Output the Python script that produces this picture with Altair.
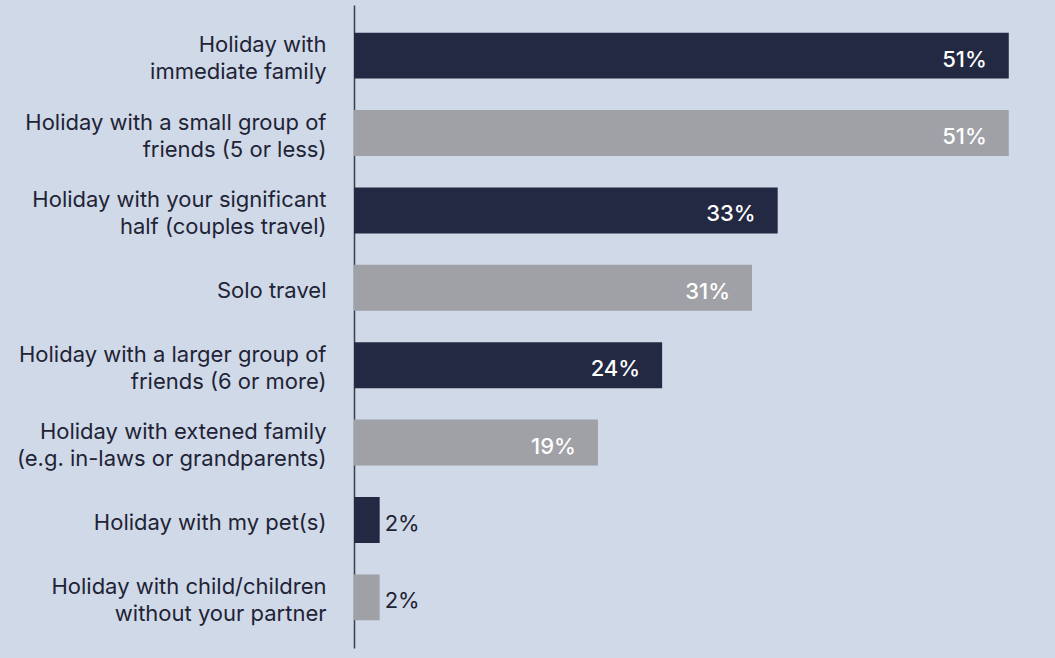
import altair as alt
import pandas as pd

categories = [
    "Holiday with|immediate family",
    "Holiday with a small group of|friends (5 or less)",
    "Holiday with your significant|half (couples travel)",
    "Solo travel",
    "Holiday with a larger group of|friends (6 or more)",
    "Holiday with extened family|(e.g. in-laws or grandparents)",
    "Holiday with my pet(s)",
    "Holiday with child/children|without your partner",
]
values = [51, 51, 33, 31, 24, 19, 2, 2]

df = pd.DataFrame({"cat": categories, "value": values})
df["tone"] = ["a" if i % 2 == 0 else "b" for i in range(len(df))]
df["label"] = [f"{v}%" for v in values]

BG = "#cfd9e7"
DARK = "#232943"
GRAY = "#a0a1a6"
TEXT = "#1f2336"
FONT = "Inter"

y = alt.Y(
    "cat:N",
    sort=categories,
    scale=alt.Scale(paddingInner=0.406, paddingOuter=0.357),
    axis=alt.Axis(
        title=None,
        ticks=False,
        domain=True,
        domainColor="#3a3d4a",
        domainWidth=1.5,
        labelExpr="split(datum.label, '|')",
        labelFont=FONT,
        labelFontSize=22,
        labelColor=TEXT,
        labelPadding=28,
        labelLineHeight=27,
        labelLimit=400,
        labelOffset={"condition": {"test": "indexof(datum.value, '|') >= 0", "value": -10.5}, "value": 3},
        grid=False,
    ),
)
x = alt.X(
    "value:Q",
    scale=alt.Scale(domain=[0, 54.6], nice=False),
    axis=None,
)

base = alt.Chart(df)
bars = base.mark_bar().encode(
    y=y,
    x=x,
    color=alt.Color("tone:N", scale=alt.Scale(domain=["a", "b"], range=[DARK, GRAY]), legend=None),
)
inside = base.transform_filter("datum.value >= 10").mark_text(
    align="right", baseline="middle", dx=-22, dy=4, font=FONT, fontSize=22, fontWeight=500, color="white"
).encode(y=alt.Y("cat:N", sort=categories), x=x, text="label:N")
outside = base.transform_filter("datum.value < 10").mark_text(
    align="left", baseline="middle", dx=5, dy=4, font=FONT, fontSize=22, fontWeight=400, color=TEXT
).encode(y=alt.Y("cat:N", sort=categories), x=x, text="label:N")

chart = (
    alt.layer(bars, inside, outside)
    .properties(
        width=701,
        height=643,
        background=BG,
        padding={"left": 354, "top": 5, "right": 0, "bottom": 10},
        autosize=alt.AutoSizeParams(type="none"),
    )
    .configure_view(stroke=None)
)

chart.save("out.html", embed_options={"renderer": "svg", "actions": False})
